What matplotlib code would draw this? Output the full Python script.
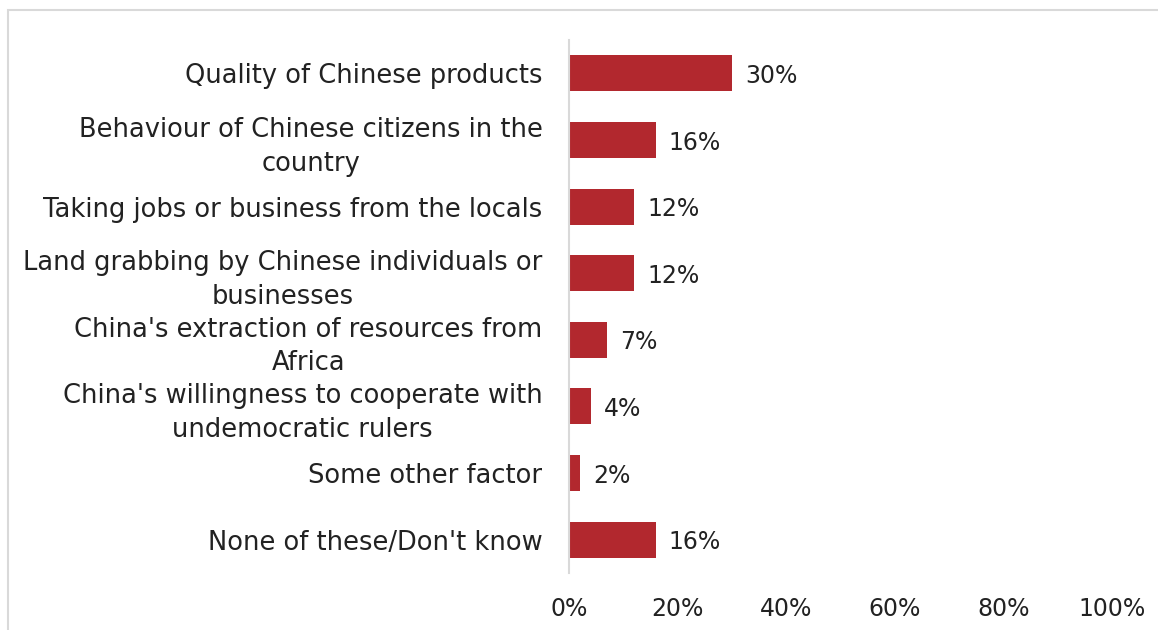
import matplotlib.pyplot as plt
from matplotlib.patches import Rectangle

plt.rcParams['font.family'] = ['DejaVu Sans']

categories = [
    "Quality of Chinese products",
    "Behaviour of Chinese citizens in the\ncountry",
    "Taking jobs or business from the locals",
    "Land grabbing by Chinese individuals or\nbusinesses",
    "China's extraction of resources from\nAfrica",
    "China's willingness to cooperate with\nundemocratic rulers",
    "Some other factor",
    "None of these/Don't know",
]
values = [30, 16, 12, 12, 7, 4, 2, 16]
xticks = [0, 20, 40, 60, 80, 100]

W, H = 1158, 630
fig = plt.figure(figsize=(W / 100, H / 100), dpi=100)
ax = fig.add_axes([569 / W, 1 - 573 / H, (1112 - 569) / W, (573 - 40) / H])

ypos = list(range(len(categories)))
ax.barh(ypos, values, height=0.54, color='#B2282E')
ax.set_ylim(len(categories) - 0.5, -0.5)
ax.set_xlim(0, 100)

for y, v in zip(ypos, values):
    ax.text(v + 2.4, y + 0.04, f"{v}%", va='center', ha='left', fontsize=17, color='#222222')

ax.set_yticks(ypos)
ax.set_yticklabels(categories, fontsize=18.5, color='#222222')
for lbl in ax.get_yticklabels():
    lbl.set_multialignment('center')
    lbl.set_linespacing(1.38)
ax.set_xticks(xticks)
ax.set_xticklabels([f"{t}%" for t in xticks], fontsize=17, color='#222222')
ax.tick_params(axis='y', length=0, pad=19)
ax.tick_params(axis='x', length=0, pad=17)

for s in ['top', 'right', 'bottom']:
    ax.spines[s].set_visible(False)
ax.spines['left'].set_color('#D9D9D9')
ax.spines['left'].set_linewidth(1.5)

# light chart border
fig.patches.append(Rectangle((8 / W, -0.1), 1.2, 1 - 10 / H + 0.1, transform=fig.transFigure,
                             fill=False, edgecolor='#D9D9D9', linewidth=1.5))

fig.savefig('out.png', dpi=100)
